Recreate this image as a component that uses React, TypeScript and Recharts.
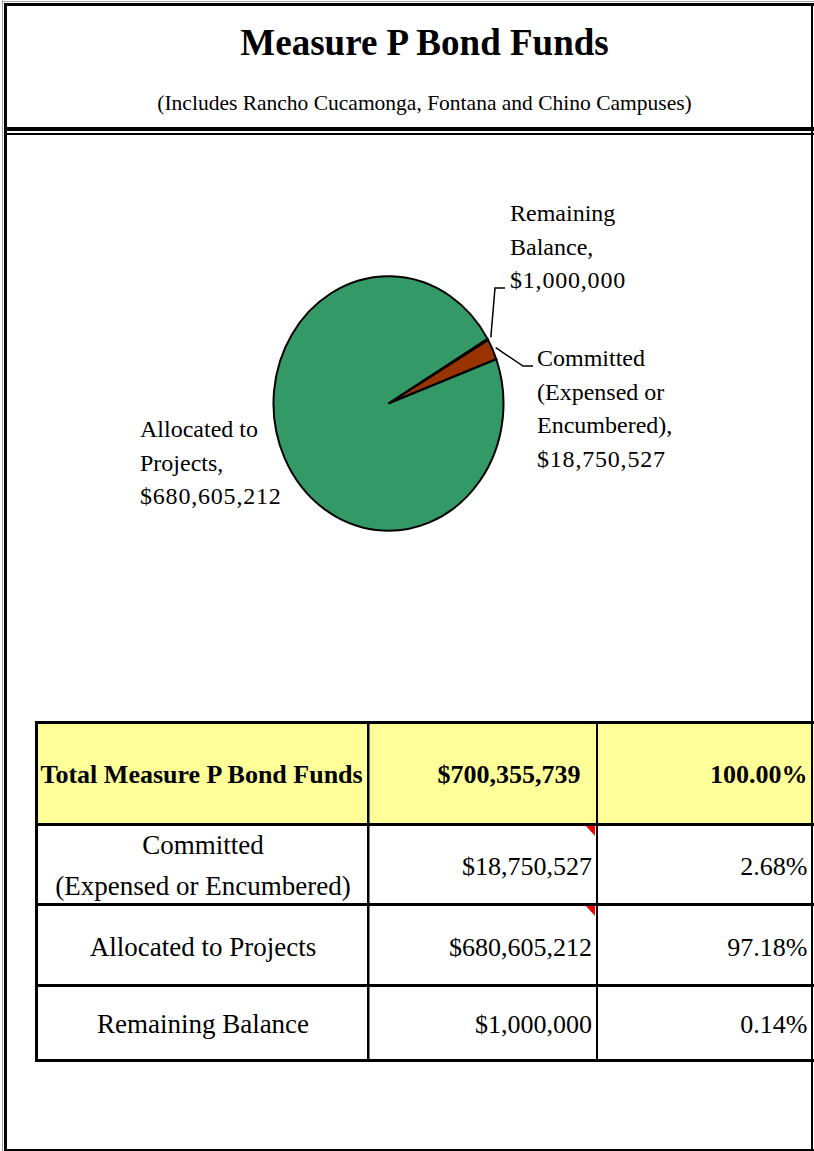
import { PieChart, Pie, Cell } from 'recharts';

// chart data
const categories = ['Committed (Expensed or Encumbered)', 'Allocated to Projects', 'Remaining Balance'];
const amounts = [18750527, 680605212, 1000000];
const sliceColors = ['#993300', '#339966', '#000000'];

// how the names break in the pie labels and in the table
const pieLabelLines = [['Committed', '(Expensed or', 'Encumbered),'], ['Allocated to', 'Projects,'], ['Remaining', 'Balance,']];
const tableLabelLines = [['Committed', '(Expensed or Encumbered)'], ['Allocated to Projects'], ['Remaining Balance']];

const title = 'Measure P Bond Funds';
const subtitle = '(Includes Rancho Cucamonga, Fontana and Chino Campuses)';
const totalLabel = 'Total Measure P Bond Funds';

const FONT = '"Liberation Serif", "Times New Roman", serif';
const RY = 1.107; // the pie is drawn a little taller than wide
const RAD = Math.PI / 180;
const LINE_H = 33.7;

// label anchors in chart coords (chart sits at top 140)
const LABEL_POS = [
  { x: 537, y: 226, leader: [[523, 226], [533, 226]] },
  { x: 140, y: 297, leader: null },
  { x: 510, y: 81, leader: [[495, 148], [505, 148]] },
];

const data = categories.map((name, i) => ({ name, value: amounts[i] }));
const total = amounts.reduce((a, b) => a + b, 0);

const money = (v: number) => '$' + v.toLocaleString('en-US');
const pct = (v: number) => ((v / total) * 100).toFixed(2) + '%';

const ellipsePoint = (cx: number, cy: number, r: number, angle: number) => [
  cx + r * Math.cos(angle * RAD),
  cy - r * RY * Math.sin(angle * RAD),
];

function EllipseSector(props: any) {
  const { cx, cy, outerRadius, startAngle, endAngle, fill, stroke, strokeWidth } = props;
  const rx = outerRadius;
  const ry = outerRadius * RY;
  const delta = Math.abs(endAngle - startAngle);
  if (delta >= 359.99) {
    return <ellipse cx={cx} cy={cy} rx={rx} ry={ry} fill={fill} stroke={stroke} strokeWidth={strokeWidth} />;
  }
  const [x1, y1] = ellipsePoint(cx, cy, outerRadius, startAngle);
  const [x2, y2] = ellipsePoint(cx, cy, outerRadius, endAngle);
  const large = delta > 180 ? 1 : 0;
  const sweep = endAngle < startAngle ? 1 : 0;
  const d = `M${cx},${cy} L${x1},${y1} A${rx},${ry} 0 ${large} ${sweep} ${x2},${y2} Z`;
  return <path d={d} fill={fill} stroke={stroke} strokeWidth={strokeWidth} strokeLinejoin="miter" />;
}

const renderLabel = (props: any) => {
  const { cx, cy, midAngle, outerRadius, index } = props;
  const pos = LABEL_POS[index];
  const lines = [...pieLabelLines[index], money(amounts[index])];
  const edge = ellipsePoint(cx, cy, outerRadius * 1.03, midAngle);
  return (
    <g key={`lbl-${index}`}>
      {pos.leader && (
        <polyline
          points={[edge, ...pos.leader].map((p) => p.join(',')).join(' ')}
          fill="none"
          stroke="#000"
          strokeWidth={1.5}
        />
      )}
      <text x={pos.x} y={pos.y} fontSize={24} fontFamily={FONT} fill="#000">
        {lines.map((l, i) => (
          <tspan key={i} x={pos.x} y={pos.y + i * LINE_H} letterSpacing={i === lines.length - 1 ? 0.8 : 0}>
            {l}
          </tspan>
        ))}
      </text>
    </g>
  );
};

// table grid
const colX = [35, 367, 596];
const rowY = [721, 823, 903, 984, 1059];
const rowBaselines = [875, 956, 1033];

export default function App() {
  return (
    <div
      style={{
        position: 'relative',
        width: 814,
        height: 1151,
        overflow: 'hidden',
        background: '#fff',
        fontFamily: FONT,
      }}
    >
      <style>{'body{margin:0}'}</style>
      <svg width={814} height={1151} style={{ position: 'absolute', left: 0, top: 0 }}>
        {/* title block */}
        <text x={424.5} y={55} textAnchor="middle" fontSize={37} fontWeight="bold" fontFamily={FONT}>
          {title}
        </text>
        <text x={424.5} y={110} textAnchor="middle" fontSize={21.5} fontFamily={FONT}>
          {subtitle}
        </text>

        {/* table */}
        <rect x={36} y={722} width={778} height={102} fill="#FFFF99" />
        {rowY.map((y, i) => (
          <rect key={`h${i}`} x={35} y={y} width={779} height={3} fill="#000" />
        ))}
        <rect x={colX[0]} y={721} width={3} height={341} fill="#000" />
        <rect x={colX[1]} y={721} width={2.5} height={341} fill="#000" />
        <rect x={colX[2]} y={721} width={2} height={341} fill="#000" />

        <text x={40.5} y={783} fontSize={26} fontWeight="bold" fontFamily={FONT}>
          {totalLabel}
        </text>
        <text x={580.5} y={783} textAnchor="end" fontSize={26} fontWeight="bold" fontFamily={FONT}>
          {money(total)}
        </text>
        <text x={807.5} y={783} textAnchor="end" fontSize={26} fontWeight="bold" fontFamily={FONT}>
          {pct(total)}
        </text>

        {categories.map((c, i) => {
          const lines = tableLabelLines[i];
          const base = rowBaselines[i];
          const cx = (colX[0] + colX[1]) / 2 + 2;
          return (
            <g key={c}>
              {lines.length === 1 ? (
                <text x={cx} y={base} textAnchor="middle" fontSize={27} fontFamily={FONT}>
                  {lines[0]}
                </text>
              ) : (
                <>
                  <text x={cx} y={854} textAnchor="middle" fontSize={27} fontFamily={FONT}>
                    {lines[0]}
                  </text>
                  <text x={cx} y={895} textAnchor="middle" fontSize={27} fontFamily={FONT}>
                    {lines[1]}
                  </text>
                </>
              )}
              <text x={592} y={base} textAnchor="end" fontSize={26} fontFamily={FONT}>
                {money(amounts[i])}
              </text>
              <text x={807.5} y={base} textAnchor="end" fontSize={26} fontFamily={FONT}>
                {pct(amounts[i])}
              </text>
            </g>
          );
        })}

        {/* comment markers */}
        <polygon points="586,826 595,826 595,836" fill="#ff0000" />
        <polygon points="586,906 595,906 595,916" fill="#ff0000" />

        {/* frame */}
        <rect x={2} y={0} width={1} height={1151} fill="#a0a0a0" />
        <rect x={2} y={1} width={812} height={1} fill="#a0a0a0" />
        <rect x={4} y={3} width={810} height={3} fill="#000" />
        <rect x={4} y={3} width={3} height={1148} fill="#000" />
        <rect x={4} y={127} width={810} height={4} fill="#000" />
        <rect x={4} y={133} width={810} height={2} fill="#000" />
        <rect x={811} y={3} width={2} height={1148} fill="#000" />
        <rect x={4} y={1149} width={810} height={2} fill="#000" />
      </svg>

      <div style={{ position: 'absolute', left: 0, top: 140 }}>
        <PieChart width={814} height={560} margin={{ top: 0, right: 0, bottom: 0, left: 0 }}>
          <Pie
            data={data}
            dataKey="value"
            nameKey="name"
            cx={388.5}
            cy={263.5}
            outerRadius={115}
            startAngle={30}
            endAngle={-330}
            stroke="#000"
            strokeWidth={2}
            isAnimationActive={false}
            label={renderLabel}
            labelLine={false}
            shape={EllipseSector}
            activeShape={EllipseSector}
            inactiveShape={EllipseSector}
          >
            {data.map((entry, index) => (
              <Cell key={`cell-${index}`} fill={sliceColors[index]} />
            ))}
          </Pie>
        </PieChart>
      </div>
    </div>
  );
}
